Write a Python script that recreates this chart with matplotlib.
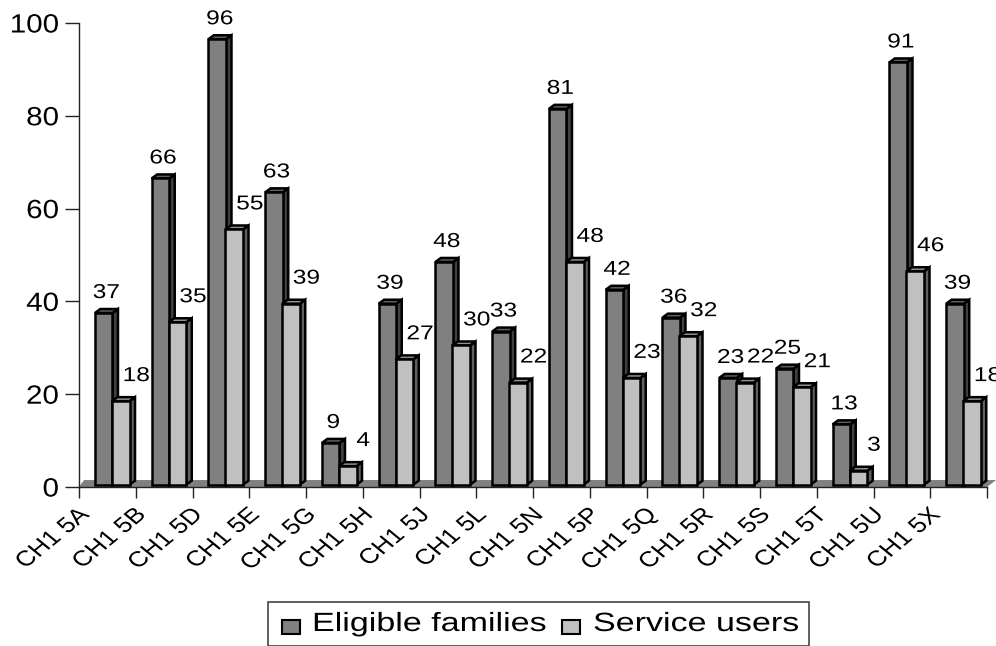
#!/usr/bin/env python3
import matplotlib as mpl
mpl.use('Agg')

import matplotlib.pyplot as plt
from matplotlib.patches import Polygon, Rectangle
from matplotlib.patheffects import AbstractPathEffect
from matplotlib.transforms import Affine2D

plt.rcParams['font.family'] = ['Liberation Sans', 'DejaVu Sans']

categories = ['CH1 5A', 'CH1 5B', 'CH1 5D', 'CH1 5E', 'CH1 5G', 'CH1 5H', 'CH1 5J', 'CH1 5L',
              'CH1 5N', 'CH1 5P', 'CH1 5Q', 'CH1 5R', 'CH1 5S', 'CH1 5T', 'CH1 5U', 'CH1 5X']
eligible = [37, 66, 96, 63, 9, 39, 48, 33, 81, 42, 36, 23, 25, 13, 91, 39]
users = [18, 35, 55, 39, 4, 27, 30, 22, 48, 23, 32, 22, 21, 3, 46, 18]

W, H = 996, 646
LEFT, RIGHT, TOP, BOTTOM = 79, 987, 23, 487


# the reference image is stretched sideways, so stretch the text about its anchor
class Wide(AbstractPathEffect):
    def __init__(self, pivot, factor):
        super().__init__()
        self.pivot = pivot
        self.factor = factor

    def draw_path(self, renderer, gc, tpath, affine, rgbFace=None):
        extra = Affine2D().translate(-self.pivot, 0).scale(self.factor, 1).translate(self.pivot, 0)
        renderer.draw_path(gc, tpath, affine + extra, rgbFace)


def widen(t, factor=1.27):
    px = t.get_transform().transform(t.get_position())[0]
    t.set_path_effects([Wide(px, factor)])
    return t


fig = plt.figure(figsize=[W/100, H/100], dpi=100)
ax = fig.add_axes([LEFT/W, 1-BOTTOM/H, (RIGHT-LEFT)/W, (BOTTOM-TOP)/H])
ax.set_xlim(0, len(categories))
ax.set_ylim(0, 100)
ax.patch.set_visible(False)

# fake 3d: depth of the bars in data units
dx = 5.5/56.75
dy = 4/4.64
base = 0.5
width = 0.31
start = 0.28
lw = 1.8


def bar3d(x, v, front, side, top, z):
    ax.add_patch(Polygon([(x+width, base+v), (x+width+dx, base+v+dy), (x+width+dx, base+dy), (x+width, base)],
                         fc=side, ec='k', lw=lw, zorder=z, clip_on=False))
    ax.add_patch(Polygon([(x, base+v), (x+dx, base+v+dy), (x+width+dx, base+v+dy), (x+width, base+v)],
                         fc=top, ec='k', lw=lw, zorder=z, clip_on=False))
    ax.bar(x, v, width, bottom=base, align='edge', color=front, edgecolor='k', linewidth=lw, zorder=z+0.1)


# floor
n = len(categories)
ax.add_patch(Polygon([(0, 0), (0.09, 1.5), (n+0.16, 1.5), (n, 0)], fc='#808080', ec='none', zorder=1, clip_on=False))

for i in range(n):
    bar3d(i+start, eligible[i], '#808080', '#404040', '#606060', 2+i*2)
    bar3d(i+start+width-0.01, users[i], '#c0c0c0', '#606060', '#909090', 3+i*2)
    t = ax.text(i+start+width*0.65, eligible[i]+base+dy+1.5, str(eligible[i]), fontsize=14.5,
                ha='center', va='bottom', zorder=100, clip_on=False)
    widen(t, 1.22)
    t = ax.text(i+start+width*2.35, users[i]+base+dy+2.6, str(users[i]), fontsize=14.5,
                ha='center', va='bottom', zorder=100, clip_on=False)
    widen(t, 1.22)

for s in ['top', 'right']:
    ax.spines[s].set_visible(False)
for s in ['left', 'bottom']:
    ax.spines[s].set_linewidth(1.0)
    ax.spines[s].set_color('#222222')

ax.set_yticks(range(0, 101, 20))
ax.tick_params(axis='y', labelsize=19, length=10, width=1.0, pad=4, color='#222222')
for t in ax.get_yticklabels():
    t.set_path_effects([Wide(LEFT-14, 1.12)])
ax.set_xticks(range(n+1))
ax.set_xticklabels([])
ax.tick_params(axis='x', length=8, width=1.0, color='#222222')

# category labels sit rotated under the ticks
for i, c in enumerate(categories):
    t = ax.text(i-0.05, -3.8, c, rotation=45, fontsize=15.5, ha='right', va='top',
                rotation_mode='anchor', clip_on=False)
    widen(t, 1.22)

# legend box
fig.add_artist(Rectangle((268/W, 1-646/H), 541/W, 44/H, transform=fig.transFigure, fc='white', ec='#444444', lw=1.2))
fig.add_artist(Rectangle((282/W, 1-634/H), 18/W, 14/H, transform=fig.transFigure, fc='#808080', ec='k', lw=1.5))
fig.add_artist(Rectangle((562/W, 1-634/H), 18/W, 14/H, transform=fig.transFigure, fc='#c0c0c0', ec='k', lw=1.5))
t = fig.text(312/W, 1-631/H, 'Eligible families', fontsize=19, va='baseline', ha='left')
widen(t, 1.29)
t = fig.text(593/W, 1-631/H, 'Service users', fontsize=19, va='baseline', ha='left')
widen(t, 1.29)

plt.savefig('out.png', dpi=100)
